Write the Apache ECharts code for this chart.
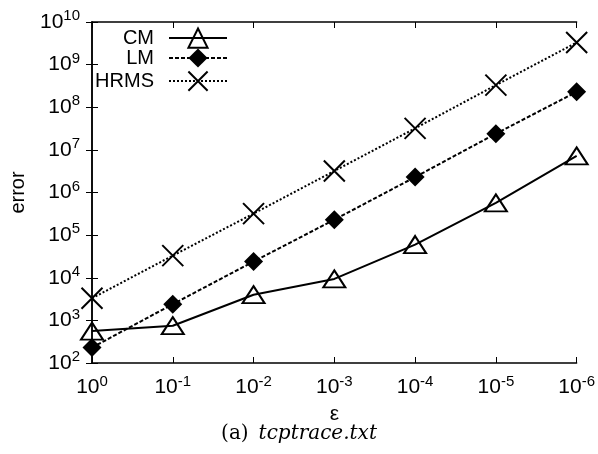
<!DOCTYPE html>
<html>
<head>
<meta charset="utf-8">
<script src="https://cdn.jsdelivr.net/npm/echarts@6/dist/echarts.min.js"></script>
<style>
  html, body { margin: 0; padding: 0; background: #fff; }
  #chart { width: 598px; height: 454px; }
</style>
</head>
<body>
<div id="chart"></div>
<script>
// x positions: epsilon = 10^0 ... 10^-6
const xExponents = [0, 1, 2, 3, 4, 5, 6];
const cmValues = [560, 750, 4000, 9400, 60000, 570000, 7200000];
const lmValues = [230, 2400, 24000, 230000, 2300000, 24000000, 230000000];
const hrmsValues = [3300, 33000, 320000, 3200000, 32000000, 330000000, 3300000000];
const seriesNames = ['CM', 'LM', 'HRMS'];

const font = 'Liberation Sans, Arial, sans-serif';
const myChart = echarts.init(document.getElementById('chart'));

const pairs = vals => xExponents.map((x, i) => [x, vals[i]]);
const supRich = {
  b: { fontFamily: font, fontSize: 21, color: '#000' },
  s: { fontFamily: font, fontSize: 15, color: '#000', padding: [0, 0, 12, 0] }
};
const crossPath = 'path://M0,0L10,10M10,0L0,10';

function legendFor(name, top) {
  return {
    data: [name],
    right: 370,
    top: top,
    padding: 0,
    align: 'right',
    itemWidth: 58,
    itemHeight: 24,
    textStyle: { fontFamily: font, fontSize: 20, color: '#000', padding: [0, 10, 0, 0] },
    selectedMode: false
  };
}

const option = {
  animation: false,
  backgroundColor: '#fff',
  title: {
    text: '{n|(a)}  {i|tcptrace.txt}',
    left: 'center',
    top: 424,
    padding: 0,
    textStyle: {
      rich: {
        n: { fontFamily: 'DejaVu Serif, serif', fontSize: 20, fontWeight: 'normal', color: '#000' },
        i: { fontFamily: 'DejaVu Serif, serif', fontSize: 20, fontWeight: 'normal', fontStyle: 'italic', color: '#000' }
      }
    }
  },
  legend: [legendFor('CM', 26), legendFor('LM', 48), legendFor('HRMS', 69)],
  grid: { left: 92, right: 21, top: 22, bottom: 91 },
  xAxis: [
    {
      type: 'value', min: 0, max: 6, interval: 1,
      name: 'ε', nameLocation: 'middle', nameGap: 41,
      nameTextStyle: { fontFamily: font, fontSize: 21, color: '#000' },
      axisLine: { lineStyle: { color: '#000', width: 1.5 } },
      axisTick: { inside: true, length: 6, lineStyle: { color: '#000' } },
      splitLine: { show: false },
      axisLabel: {
        margin: 11,
        formatter: v => '{b|10}{s|' + (v === 0 ? '0' : '-' + v) + '}',
        rich: supRich
      }
    },
    {
      type: 'value', min: 0, max: 6, interval: 1, position: 'top',
      axisLine: { lineStyle: { color: '#000', width: 1.5 } },
      axisTick: { inside: true, length: 6, lineStyle: { color: '#000' } },
      splitLine: { show: false },
      axisLabel: { show: false }
    }
  ],
  yAxis: [
    {
      type: 'log', logBase: 10, min: 100, max: 1e10,
      name: 'error', nameLocation: 'middle', nameGap: 64, nameRotate: 90,
      nameTextStyle: { fontFamily: font, fontSize: 20, color: '#000' },
      axisLine: { show: true, lineStyle: { color: '#000', width: 1.5 } },
      axisTick: { show: true, inside: true, length: 6, lineStyle: { color: '#000' } },
      minorTick: { show: false },
      splitLine: { show: false },
      axisLabel: {
        margin: 12,
        formatter: v => '{b|10}{s|' + Math.round(Math.log10(v)) + '}',
        rich: supRich
      }
    },
    {
      type: 'log', logBase: 10, min: 100, max: 1e10, position: 'right',
      axisLine: { show: true, lineStyle: { color: '#000', width: 1.5 } },
      axisTick: { show: true, inside: true, length: 6, lineStyle: { color: '#000' } },
      splitLine: { show: false },
      axisLabel: { show: false }
    }
  ],
  series: [
    {
      name: seriesNames[0], type: 'line', data: pairs(cmValues),
      symbol: 'triangle', symbolSize: [22, 17],
      lineStyle: { color: '#000', width: 2, type: 'solid' },
      itemStyle: { color: 'none', borderColor: '#000', borderWidth: 2 }
    },
    {
      name: seriesNames[1], type: 'line', data: pairs(lmValues),
      symbol: 'diamond', symbolSize: 19,
      lineStyle: { color: '#000', width: 2, type: [4, 2] },
      itemStyle: { color: '#000', borderColor: '#000', borderWidth: 0 }
    },
    {
      name: seriesNames[2], type: 'line', data: pairs(hrmsValues),
      symbol: crossPath, symbolSize: 21,
      lineStyle: { color: '#000', width: 2, type: [2, 2] },
      itemStyle: { color: 'none', borderColor: '#000', borderWidth: 2 }
    }
  ]
};
myChart.setOption(option);
</script>
</body>
</html>
